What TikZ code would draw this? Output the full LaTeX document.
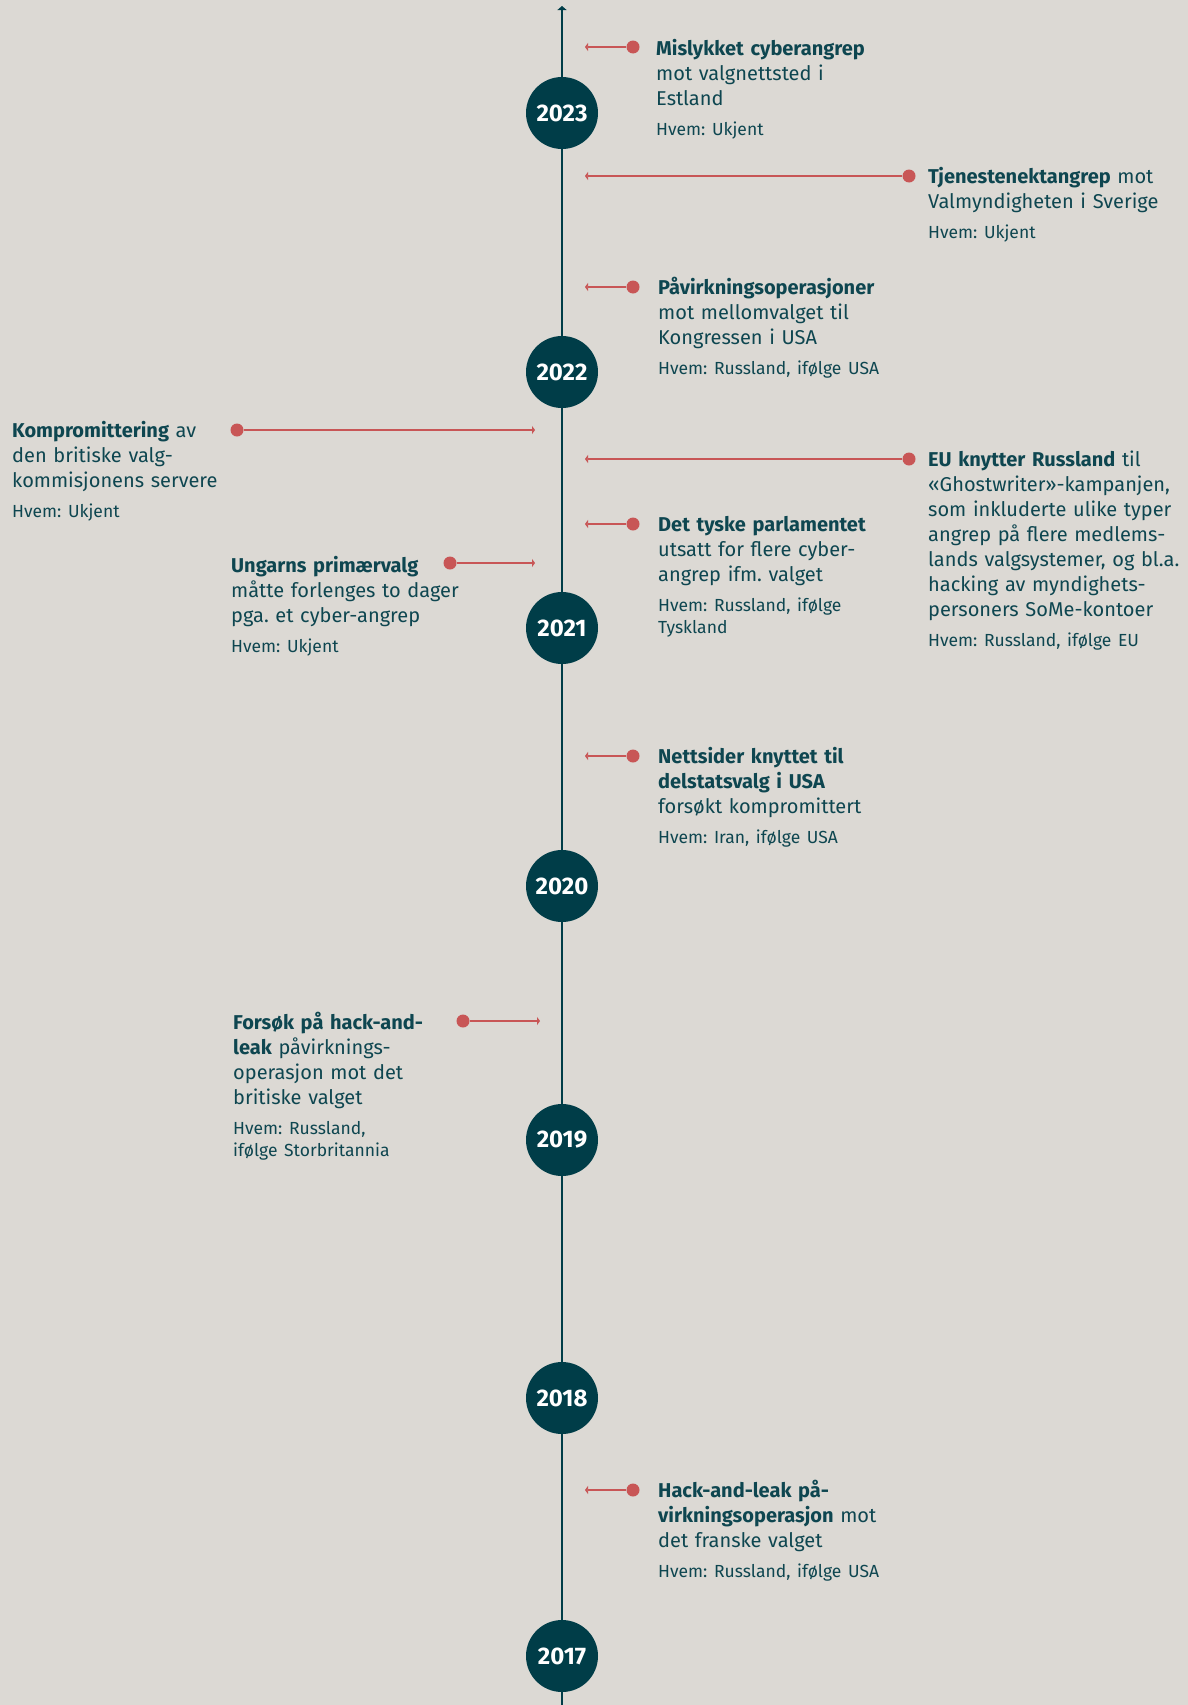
\documentclass[tikz,border=0pt]{standalone}
\usepackage{fontspec}
\setmainfont{Fira Sans}
\usetikzlibrary{arrows.meta, positioning}

\definecolor{bakgrunn}{HTML}{DCD9D4}
\definecolor{petrol}{HTML}{003D48}
\definecolor{tekstfarge}{HTML}{0E4650}
\definecolor{rod}{HTML}{C85656}
\newcommand{\hvemfont}{\fontsize{17.5}{22}\selectfont}
\frenchspacing

\begin{document}
\begin{tikzpicture}[
        x=1pt, y=-1pt,
        aar/.style={circle, fill=petrol, minimum size=72pt, inner sep=0pt, text=white, font=\fontsize{24}{28}\selectfont\bfseries},
        hendelse/.style={anchor=base west, align=left, text width=255pt, inner sep=0pt, text=tekstfarge, font=\fontsize{20}{25}\selectfont},
        prikk/.style={circle, fill=rod, minimum size=13pt, inner sep=0pt},
        pil/.style={draw=rod, line width=1.6pt, -{Triangle[length=3pt, width=8pt]}},
        tidslinje/.style={draw=petrol, line width=2pt, -{Triangle[length=4pt, width=9pt]}}
    ]
        \fill[bakgrunn] (0,0) rectangle (1188,1705);
        \useasboundingbox (0,0) rectangle (1188,1705);

        \coordinate (bunn) at (562,1705);
        \coordinate (topp) at (562,6);
        \draw[tidslinje] (bunn) -- (topp);

        \foreach \aarstall/\ypos in {2023/113,2022/372,2021/628,2020/886,2019/1140,2018/1398,2017/1656}
            \node[aar] (a\aarstall) at (562,\ypos) {\aarstall};

        % hoyre side
        \node[prikk] (p1) at (633,47) {};
        \coordinate (s1) at (585,47);
        \draw[pil] (p1) -- (s1);
        \node[hendelse] (mislykket) at (656,55) {{\bfseries Mislykket cyberangrep}\\ mot valgnettsted i\\ Estland\\[5pt] {\hvemfont Hvem: Ukjent}};

        \node[prikk] (p2) at (909,176) {};
        \coordinate (s2) at (585,176);
        \draw[pil] (p2) -- (s2);
        \node[hendelse] (tjeneste) at (928,183) {{\bfseries Tjenestenektangrep} mot\\ Valmyndigheten i Sverige\\[5pt] {\hvemfont Hvem: Ukjent}};

        \node[prikk] (p3) at (633,287) {};
        \coordinate (s3) at (585,287);
        \draw[pil] (p3) -- (s3);
        \node[hendelse] (paavirkning) at (658,294) {{\bfseries Påvirkningsoperasjoner}\\ mot mellomvalget til\\ Kongressen i USA\\[5pt] {\hvemfont Hvem: Russland, ifølge USA}};

        \node[prikk] (p5) at (909,459) {};
        \coordinate (s5) at (585,459);
        \draw[pil] (p5) -- (s5);
        \node[hendelse] (ghostwriter) at (928,466) {{\bfseries EU knytter Russland} til\\ «Ghostwriter»-kampanjen,\\ som inkluderte ulike typer\\ angrep på flere medlems-\\ lands valgsystemer, og bl.a.\\ hacking av myndighets-\\ personers SoMe-kontoer\\[5pt] {\hvemfont Hvem: Russland, ifølge EU}};

        \node[prikk] (p6) at (633,524) {};
        \coordinate (s6) at (585,524);
        \draw[pil] (p6) -- (s6);
        \node[hendelse] (tysk) at (658,531) {{\bfseries Det tyske parlamentet}\\ utsatt for flere cyber-\\ angrep ifm. valget\\[5pt] {\hvemfont Hvem: Russland, ifølge}\\[-3pt] {\hvemfont Tyskland}};

        \node[prikk] (p8) at (633,756) {};
        \coordinate (s8) at (585,756);
        \draw[pil] (p8) -- (s8);
        \node[hendelse] (nettsider) at (658,763) {{\bfseries Nettsider knyttet til}\\ {\bfseries delstatsvalg i USA}\\ forsøkt kompromittert\\[5pt] {\hvemfont Hvem: Iran, ifølge USA}};

        \node[prikk] (p10) at (633,1490) {};
        \coordinate (s10) at (585,1490);
        \draw[pil] (p10) -- (s10);
        \node[hendelse] (hackleak) at (658,1497) {{\bfseries Hack-and-leak på-}\\ {\bfseries virkningsoperasjon} mot\\ det franske valget\\[5pt] {\hvemfont Hvem: Russland, ifølge USA}};

        % venstre side
        \node[prikk] (p4) at (237,430) {};
        \coordinate (s4) at (535,430);
        \draw[pil] (p4) -- (s4);
        \node[hendelse] (kompromittering) at (12,437) {{\bfseries Kompromittering} av\\ den britiske valg-\\ kommisjonens servere\\[5pt] {\hvemfont Hvem: Ukjent}};

        \node[prikk] (p7) at (450,563) {};
        \coordinate (s7) at (535,563);
        \draw[pil] (p7) -- (s7);
        \node[hendelse] (ungarn) at (231,572) {{\bfseries Ungarns primærvalg}\\ måtte forlenges to dager\\ pga. et cyber-angrep\\[5pt] {\hvemfont Hvem: Ukjent}};

        \node[prikk] (p9) at (463,1021) {};
        \coordinate (s9) at (540,1021);
        \draw[pil] (p9) -- (s9);
        \node[hendelse] (forsok) at (233,1029) {{\bfseries Forsøk på hack-and-}\\ {\bfseries leak} påvirknings-\\ operasjon mot det\\ britiske valget\\[5pt] {\hvemfont Hvem: Russland,}\\[-3pt] {\hvemfont ifølge Storbritannia}};
    \end{tikzpicture}
\end{document}
